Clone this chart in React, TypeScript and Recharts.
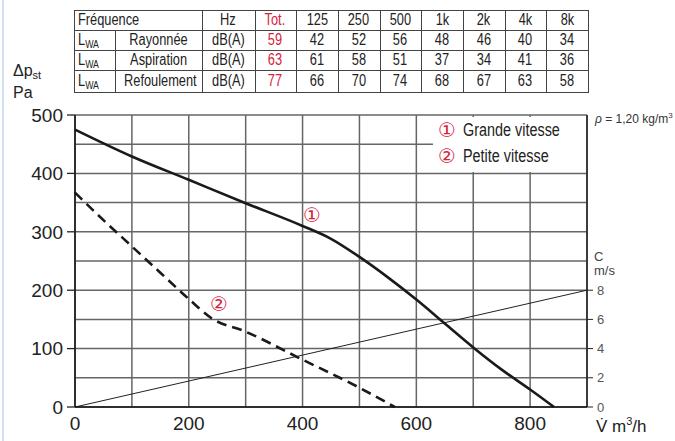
import React from "react";
import {
  LineChart,
  Line,
  XAxis,
  YAxis,
  CartesianGrid,
} from "recharts";

// fan curves (m3/h -> Pa)
const grandeVitesse = [
  { q: 0, p: 475 },
  { q: 100, p: 429 },
  { q: 200, p: 389 },
  { q: 300, p: 349 },
  { q: 400, p: 310 },
  { q: 450, p: 288 },
  { q: 500, p: 257 },
  { q: 550, p: 222 },
  { q: 600, p: 184 },
  { q: 650, p: 143 },
  { q: 700, p: 102 },
  { q: 750, p: 64 },
  { q: 800, p: 30 },
  { q: 842, p: 0 },
];

const petiteVitesse = [
  { q: 0, p: 367 },
  { q: 50, p: 320 },
  { q: 100, p: 275 },
  { q: 150, p: 230 },
  { q: 200, p: 185 },
  { q: 240, p: 152 },
  { q: 300, p: 129 },
  { q: 400, p: 81 },
  { q: 500, p: 33 },
  { q: 562, p: 0 },
];

// duct air speed (right axis, m/s)
const vitesseAir = [
  { q: 0, c: 0 },
  { q: 900, c: 8 },
];

const xTicks = [0, 100, 200, 300, 400, 500, 600, 700, 800, 900];
const pTicks = [0, 50, 100, 150, 200, 250, 300, 350, 400, 450, 500];
const cTicks = [0, 2, 4, 6, 8];

// sound table
const bandes = ["125", "250", "500", "1k", "2k", "4k", "8k"];
const lignes = ["Rayonnée", "Aspiration", "Refoulement"];
const totaux = [59, 63, 77];
const niveaux = [
  [42, 52, 56, 48, 46, 40, 34],
  [61, 58, 51, 37, 34, 41, 36],
  [66, 70, 74, 68, 67, 63, 58],
];

const RED = "#d8223b";
const INK = "#222";
const SANS = '"Liberation Sans", Arial, sans-serif';
const CIRCLE = '"DejaVu Sans", sans-serif';

const colX = [73.5, 115, 202, 254.5, 296, 338, 379.5, 421, 463, 504.5, 546, 588];
const rowY = [10, 30, 50, 70, 92];

// condensed look: Liberation Sans squeezed horizontally
function Narrow({ children, origin = "center", scale = 0.8 }: any) {
  return (
    <span
      style={{
        display: "inline-block",
        transform: `scaleX(${scale})`,
        transformOrigin: origin,
        whiteSpace: "nowrap",
      }}
    >
      {children}
    </span>
  );
}

function Cell({ x0, x1, y0, y1, children, align = "center", color = INK, pad = 4 }: any) {
  return (
    <div
      style={{
        position: "absolute",
        left: x0,
        top: y0,
        width: x1 - x0,
        height: y1 - y0,
        lineHeight: `${y1 - y0}px`,
        textAlign: align,
        color,
        paddingLeft: align === "left" ? pad : 0,
        boxSizing: "border-box",
        fontSize: 16,
        fontFamily: SANS,
      }}
    >
      <Narrow origin={align === "left" ? "left" : "center"}>{children}</Narrow>
    </div>
  );
}

function SoundTable() {
  const cells: React.ReactNode[] = [];
  cells.push(
    <Cell key="f" x0={colX[0]} x1={colX[2]} y0={rowY[0]} y1={rowY[1]} align="left">
      Fréquence
    </Cell>
  );
  cells.push(<Cell key="hz" x0={colX[2]} x1={colX[3]} y0={rowY[0]} y1={rowY[1]}>Hz</Cell>);
  cells.push(
    <Cell key="tot" x0={colX[3]} x1={colX[4]} y0={rowY[0]} y1={rowY[1]} color={RED}>
      Tot.
    </Cell>
  );
  bandes.forEach((b, i) =>
    cells.push(
      <Cell key={"b" + i} x0={colX[4 + i]} x1={colX[5 + i]} y0={rowY[0]} y1={rowY[1]}>
        {b}
      </Cell>
    )
  );
  lignes.forEach((l, r) => {
    const y0 = rowY[r + 1];
    const y1 = rowY[r + 2];
    cells.push(
      <Cell key={"l" + r} x0={colX[0]} x1={colX[1]} y0={y0} y1={y1} align="left">
        L<sub style={{ fontSize: 11, verticalAlign: "-3px" }}>WA</sub>
      </Cell>
    );
    cells.push(<Cell key={"n" + r} x0={colX[1]} x1={colX[2]} y0={y0} y1={y1}>{l}</Cell>);
    cells.push(<Cell key={"u" + r} x0={colX[2]} x1={colX[3]} y0={y0} y1={y1}>dB(A)</Cell>);
    cells.push(
      <Cell key={"t" + r} x0={colX[3]} x1={colX[4]} y0={y0} y1={y1} color={RED}>
        {totaux[r]}
      </Cell>
    );
    niveaux[r].forEach((v, i) =>
      cells.push(
        <Cell key={"v" + r + i} x0={colX[4 + i]} x1={colX[5 + i]} y0={y0} y1={y1}>
          {v}
        </Cell>
      )
    );
  });

  const lines: React.ReactNode[] = [];
  rowY.forEach((y, i) =>
    lines.push(
      <div key={"h" + i} style={{ position: "absolute", left: colX[0], top: y, width: colX[11] - colX[0], height: 1, background: "#444" }} />
    )
  );
  colX.forEach((x, i) =>
    lines.push(
      <div
        key={"v" + i}
        style={{
          position: "absolute",
          left: x,
          top: i === 1 ? rowY[1] : rowY[0],
          width: 1,
          height: rowY[4] - (i === 1 ? rowY[1] : rowY[0]) + 1,
          background: "#444",
        }}
      />
    )
  );
  return (
    <>
      {cells}
      {lines}
    </>
  );
}

function LeftTick(props: any) {
  const { x, y, payload } = props;
  const v = payload.value;
  if (v % 100 !== 0) return null;
  return (
    <g>
      <line x1={x - 8} x2={x} y1={y} y2={y} stroke="#222" strokeWidth={1.3} />
      <text x={x - 12} y={y} dy="0.36em" textAnchor="end" fontSize={19} fill={INK} fontFamily={SANS}>
        {v}
      </text>
    </g>
  );
}

export default function App() {
  return (
    <div
      style={{
        position: "absolute",
        left: 0,
        top: 0,
        width: 675,
        height: 441,
        background: "#fff",
        overflow: "hidden",
      }}
    >
      <div style={{ position: "absolute", left: 2, top: 0, width: 2, height: 441, background: "#cfe1f3" }} />
      <SoundTable />
      <LineChart
        width={675}
        height={441}
        margin={{ top: 115, right: 48, bottom: 4, left: 15 }}
        style={{ position: "absolute", left: 0, top: 0 }}
      >
        <CartesianGrid
          yAxisId="left"
          stroke="#666"
          strokeWidth={1.5}
          horizontalValues={pTicks}
          verticalValues={xTicks}
        />
        <XAxis
          dataKey="q"
          type="number"
          domain={[0, 900]}
          ticks={xTicks}
          interval={0}
          height={30}
          tickLine={false}
          tickSize={0}
          tickMargin={10}
          axisLine={{ stroke: "#111", strokeWidth: 1.5 }}
          tick={{ fontSize: 19, fill: INK, fontFamily: SANS }}
          tickFormatter={(v: number) => (v % 200 === 0 && v < 900 ? String(v) : "")}
        />
        <YAxis
          yAxisId="left"
          type="number"
          domain={[0, 500]}
          ticks={pTicks}
          interval={0}
          width={60}
          tickLine={false}
          tickSize={0}
          tickMargin={0}
          axisLine={{ stroke: "#111", strokeWidth: 1.5 }}
          tick={<LeftTick />}
        />
        <YAxis
          yAxisId="right"
          orientation="right"
          type="number"
          domain={[0, 20]}
          ticks={cTicks}
          interval={0}
          width={40}
          tickSize={6}
          tickMargin={4}
          tickLine={{ stroke: "#222" }}
          axisLine={{ stroke: "#111", strokeWidth: 1.3 }}
          tick={{ fontSize: 13, fill: "#555", fontFamily: SANS }}
        />
        <Line
          yAxisId="right"
          data={vitesseAir}
          dataKey="c"
          type="linear"
          stroke="#222"
          strokeWidth={1}
          dot={false}
          isAnimationActive={false}
        />
        <Line
          yAxisId="left"
          data={petiteVitesse}
          dataKey="p"
          type="monotone"
          stroke="#1a1a1a"
          strokeWidth={2.6}
          strokeDasharray="10 6"
          dot={false}
          isAnimationActive={false}
        />
        <Line
          yAxisId="left"
          data={grandeVitesse}
          dataKey="p"
          type="monotone"
          stroke="#1a1a1a"
          strokeWidth={2.6}
          dot={false}
          isAnimationActive={false}
        />
      </LineChart>

      {/* legend box */}
      <div
        style={{
          position: "absolute",
          left: 433,
          top: 117,
          width: 153,
          height: 55,
          background: "#fff",
          fontFamily: SANS,
          fontSize: 18,
          color: INK,
        }}
      >
        <div style={{ position: "absolute", left: 5, top: 1, lineHeight: "24px" }}>
          <span style={{ color: RED, fontFamily: CIRCLE, fontSize: 20 }}>①</span>
          <span style={{ position: "absolute", left: 25, top: 0 }}>
            <Narrow origin="left">Grande vitesse</Narrow>
          </span>
        </div>
        <div style={{ position: "absolute", left: 5, top: 27, lineHeight: "24px" }}>
          <span style={{ color: RED, fontFamily: CIRCLE, fontSize: 20 }}>②</span>
          <span style={{ position: "absolute", left: 25, top: 0 }}>
            <Narrow origin="left">Petite vitesse</Narrow>
          </span>
        </div>
      </div>

      <div style={{ position: "absolute", left: 303, top: 203, color: RED, fontSize: 20, fontFamily: CIRCLE }}>①</div>
      <div style={{ position: "absolute", left: 210, top: 292, color: RED, fontSize: 20, fontFamily: CIRCLE }}>②</div>

      <div style={{ position: "absolute", left: 13, top: 62, fontFamily: SANS, fontSize: 16, color: INK, lineHeight: "17px" }}>
        Δp<sub style={{ fontSize: 11, verticalAlign: "-3px" }}>st</sub>
        <br />
        Pa
      </div>
      <div style={{ position: "absolute", left: 595, top: 111, fontFamily: SANS, fontSize: 12, color: "#333" }}>
        <i>ρ</i> = 1,20 kg/m<sup style={{ fontSize: 8 }}>3</sup>
      </div>
      <div style={{ position: "absolute", left: 594, top: 250, fontFamily: SANS, fontSize: 13, color: "#444", lineHeight: "14px" }}>
        C
        <br />
        m/s
      </div>
      <div style={{ position: "absolute", left: 596, top: 415, fontFamily: SANS, fontSize: 17, color: INK }}>
        V̇ m<sup style={{ fontSize: 11 }}>3</sup>/h
      </div>
    </div>
  );
}
